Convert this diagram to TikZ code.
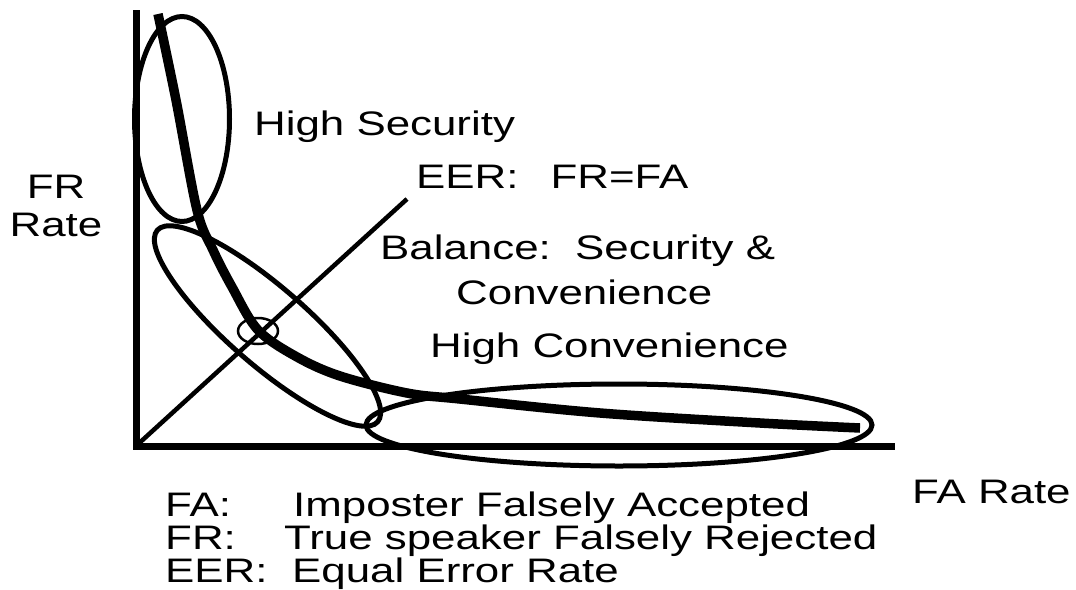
\documentclass[tikz,border=0pt]{standalone}
\usepackage{fontspec}
\setmainfont{Liberation Sans}[FakeStretch=1.29]
\usetikzlibrary{shapes.geometric}
\tikzset{
  axisline/.style={line width=7pt, line join=miter},
  region/.style={draw, ellipse, line width=5pt, inner sep=0pt},
  roc/.style={line width=9.5pt, line join=round},
  eerline/.style={line width=4.5pt},
  lbl/.style={font=\fontsize{34}{40}\selectfont, inner sep=0pt, anchor=base west},
}
\begin{document}
\begin{tikzpicture}[x=1pt, y=-1pt]
  \useasboundingbox (0,0) rectangle (1076,589);

  % axes
  \coordinate (ytop) at (136,10);
  \coordinate (origin) at (136,446);
  \coordinate (xend) at (895,446);
  \draw[axisline] (ytop) |- (xend);

  % equal error rate diagonal
  \coordinate (eerend) at (407,199);
  \draw[eerline] (origin) -- (eerend);

  % operating regions
  \node[region, minimum width=95pt, minimum height=205pt] (secure) at (182,119) {};
  \node[region, minimum width=292pt, minimum height=78pt, rotate=-41] (balance) at (267.5,326) {};
  \node[region, minimum width=506pt, minimum height=82pt] (convenient) at (619,425) {};

  % equal error point
  \node[draw, ellipse, line width=2.5pt, inner sep=0pt, minimum width=40pt, minimum height=26pt] (eer) at (258,331) {};

  % detection error trade-off curve
  \draw[roc] plot[smooth, tension=0.55] coordinates {
    (158,14) (176,100) (197,210) (213,250) (232,287) (258,330)
    (297,357) (340,376) (407,393) (460,399) (600,413) (760,423) (860,428)};

  % labels
  \node[lbl] (hs) at (254,135) {High Security};
  \node[lbl] (eq) at (416,188) {EER:\hspace{32pt}FR=FA};
  \node[lbl] (bal) at (380,259) {Balance:\ \ Security \&};
  \node[lbl] (conv) at (456,304) {Convenience};
  \node[lbl] (hc) at (430,357) {High Convenience};
  \node[lbl, anchor=base] (fr) at (56,198) {FR};
  \node[lbl, anchor=base] (frr) at (56,236) {Rate};
  \node[lbl] (far) at (912,503) {FA Rate};

  % legend
  \node[lbl] (l1a) at (165,516) {FA:};
  \node[lbl] (l1b) at (293,516) {Imposter Falsely Accepted};
  \node[lbl] (l2a) at (165,549) {FR:};
  \node[lbl] (l2b) at (284,549) {True speaker Falsely Rejected};
  \node[lbl] (l3a) at (165,582) {EER:};
  \node[lbl] (l3b) at (292,582) {Equal Error Rate};
\end{tikzpicture}
\end{document}
